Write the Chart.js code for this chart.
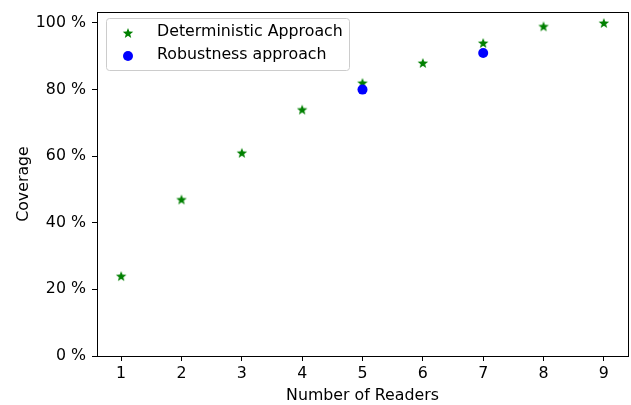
<!DOCTYPE html>
<html>
<head>
<meta charset="utf-8">
<script src="https://cdn.jsdelivr.net/npm/chart.js@4"></script>
<style>
  html, body { margin: 0; padding: 0; background: #fff; }
  #wrap { width: 631px; height: 405px; }
</style>
</head>
<body>
<div id="wrap"><canvas id="chart" width="631" height="405"></canvas></div>
<script>
// chart data
const readers = [1, 2, 3, 4, 5, 6, 7, 8, 9];
const deterministic = [24, 47, 61, 74, 82, 88, 94, 99, 100];
const robustReaders = [5, 7];
const robustness = [80, 91];
const yTicks = [0, 20, 40, 60, 80, 100];
const seriesNames = ["Deterministic Approach", "Robustness approach"];

const FONT = "'DejaVu Sans', sans-serif";
const SIZE = 15.8;

// filled five point star, like matplotlib's "*" marker
function makeStar(size, color) {
  const c = document.createElement("canvas");
  c.width = size; c.height = size;
  const g = c.getContext("2d");
  const cx = size / 2, cy = size / 2 + size * 0.04;
  const outer = size / 2 - 0.5, inner = outer * 0.42;
  g.beginPath();
  for (let i = 0; i < 10; i++) {
    const r = i % 2 === 0 ? outer : inner;
    const a = -Math.PI / 2 + i * Math.PI / 5;
    const px = cx + r * Math.cos(a), py = cy + r * Math.sin(a);
    if (i === 0) g.moveTo(px, py); else g.lineTo(px, py);
  }
  g.closePath();
  g.fillStyle = color;
  g.fill();
  return c;
}
const star = makeStar(12, "#008000");

// full black frame around the plot area
const frame = {
  id: "frame",
  afterDatasetsDraw(chart) {
    const { ctx, chartArea: a } = chart;
    ctx.save();
    ctx.strokeStyle = "#000";
    ctx.lineWidth = 1;
    ctx.strokeRect(Math.round(a.left) + 0.5, Math.round(a.top) + 0.5,
      Math.round(a.right - a.left), Math.round(a.bottom - a.top));
    ctx.restore();
  }
};

// legend in the upper left corner, matplotlib style
const boxLegend = {
  id: "boxLegend",
  afterDraw(chart) {
    const ctx = chart.ctx;
    const x = 106, y = 18, w = 243, h = 52;
    ctx.save();
    ctx.beginPath();
    ctx.roundRect(x + 0.5, y + 0.5, w, h, 3);
    ctx.fillStyle = "rgba(255,255,255,0.8)";
    ctx.fill();
    ctx.strokeStyle = "#cccccc";
    ctx.lineWidth = 1;
    ctx.stroke();

    ctx.drawImage(star, 128 - 6, 33 - 6);
    ctx.beginPath();
    ctx.arc(128, 56, 5, 0, Math.PI * 2);
    ctx.fillStyle = "#0000ff";
    ctx.fill();

    ctx.fillStyle = "#000";
    ctx.font = SIZE + "px " + FONT;
    ctx.textBaseline = "middle";
    ctx.fillText(seriesNames[0], 157, 32);
    ctx.fillText(seriesNames[1], 157, 55);
    ctx.restore();
  }
};

new Chart(document.getElementById("chart"), {
  type: "scatter",
  data: {
    datasets: [
      {
        label: seriesNames[0],
        data: readers.map((r, i) => ({ x: r, y: deterministic[i] })),
        pointStyle: star,
        backgroundColor: "#008000",
        borderColor: "#008000",
        order: 2
      },
      {
        label: seriesNames[1],
        data: robustReaders.map((r, i) => ({ x: r, y: robustness[i] })),
        pointStyle: "circle",
        pointRadius: 5,
        backgroundColor: "#0000ff",
        borderColor: "#0000ff",
        borderWidth: 0,
        order: 1
      }
    ]
  },
  options: {
    responsive: false,
    animation: false,
    events: [],
    // no extra room for point overflow, the plot box is set by hand
    layout: { autoPadding: false, padding: { top: 12, right: 3, left: 0, bottom: 0 } },
    plugins: {
      legend: { display: false },
      tooltip: { enabled: false }
    },
    scales: {
      x: {
        type: "linear",
        min: 0.6,
        max: 9.4,
        afterBuildTicks: s => { s.ticks = readers.map(v => ({ value: v })); },
        afterFit: s => { s.height = 49; s.paddingLeft = 0; s.paddingRight = 0; },
        grid: { drawOnChartArea: false, tickLength: 5, tickColor: "#000", color: "#000" },
        border: { color: "#000" },
        ticks: { color: "#000", font: { family: FONT, size: SIZE }, padding: 3, maxRotation: 0 },
        title: {
          display: true,
          text: "Number of Readers",
          color: "#000",
          font: { family: FONT, size: SIZE },
          padding: { top: 0, bottom: 0 }
        }
      },
      y: {
        min: 0,
        max: 103.3,
        afterBuildTicks: s => { s.ticks = yTicks.map(v => ({ value: v })); },
        afterFit: s => { s.width = 97; s.paddingTop = 0; s.paddingBottom = 0; },
        grid: { drawOnChartArea: false, tickLength: 5, tickColor: "#000", color: "#000" },
        border: { color: "#000" },
        ticks: {
          color: "#000",
          font: { family: FONT, size: SIZE },
          padding: 6,
          callback: v => v + " %"
        },
        title: {
          display: true,
          text: "Coverage",
          color: "#000",
          font: { family: FONT, size: SIZE },
          padding: { top: 14, bottom: 0 }
        }
      }
    }
  },
  plugins: [frame, boxLegend]
});
</script>
</body>
</html>
